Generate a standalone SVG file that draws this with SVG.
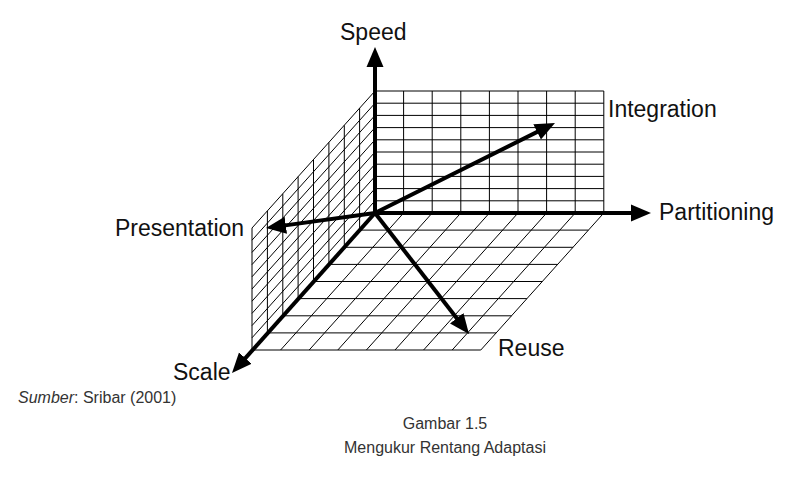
<svg xmlns="http://www.w3.org/2000/svg" width="809" height="479" viewBox="0 0 809 479">
<style>
.grid{fill:none;stroke:#000;stroke-width:1}
.axis{fill:none;stroke:#000;stroke-width:4}
.lbl{font-family:"Liberation Sans",Arial,sans-serif;font-size:23px;fill:#111}
.cap{font-family:"Liberation Sans",Arial,sans-serif;font-size:16px;fill:#333}
</style>
<defs>
<marker id="ah" markerUnits="userSpaceOnUse" markerWidth="22" markerHeight="20" viewBox="0 -10 22 20" refX="8" refY="0" orient="auto">
<path d="M0,-8.5 L20,0 L0,8.5 Z" fill="#000"/>
</marker>
</defs>
<rect width="809" height="479" fill="#fff"/>
<g id="back-wall" class="grid">
<path d="M403.6 91V213M432.2 91V213M460.8 91V213M489.4 91V213M518 91V213M546.6 91V213M575.2 91V213M603.8 91V213"/>
<path d="M375 91H603.8M375 103.2H603.8M375 115.4H603.8M375 127.6H603.8M375 139.8H603.8M375 152H603.8M375 164.2H603.8M375 176.4H603.8M375 188.6H603.8M375 200.8H603.8"/>
</g>
<g id="left-wall" class="grid">
<path d="M359.6 108.1V230.1M344.3 125.3V247.3M328.9 142.4V264.4M313.5 159.5V281.5M298.1 176.6V298.6M282.8 193.8V315.8M267.4 210.9V332.9M252 228V350"/>
<path d="M375 200.8L252 337.8M375 188.6L252 325.6M375 176.4L252 313.4M375 164.2L252 301.2M375 152L252 289M375 139.8L252 276.8M375 127.6L252 264.6M375 115.4L252 252.4M375 103.2L252 240.2M375 91L252 228"/>
</g>
<g id="floor" class="grid">
<path d="M359.6 230.1H588.4M344.3 247.3H573.1M328.9 264.4H557.7M313.5 281.5H542.3M298.1 298.6H526.9M282.8 315.8H511.6M267.4 332.9H496.2M252 350H480.8"/>
<path d="M403.6 213L280.6 350M432.2 213L309.2 350M460.8 213L337.8 350M489.4 213L366.4 350M518 213L395 350M546.6 213L423.6 350M575.2 213L452.2 350M603.8 213L480.8 350"/>
</g>
<g id="connectors" class="axis">
<line id="speed-axis" x1="375" y1="213" x2="375" y2="59" marker-end="url(#ah)"/>
<line id="partitioning-axis" x1="375" y1="213" x2="639" y2="213" marker-end="url(#ah)"/>
<line id="scale-axis" x1="375" y1="213" x2="240" y2="364.05" marker-end="url(#ah)"/>
<line id="integration-arrow" x1="375" y1="213" x2="544.27" y2="128.37" marker-end="url(#ah)"/>
<line id="presentation-arrow" x1="375" y1="213" x2="277.89" y2="226.36" marker-end="url(#ah)"/>
<line id="reuse-arrow" x1="375" y1="213" x2="461.64" y2="324.52" marker-end="url(#ah)"/>
</g>
<g id="speed"><text class="lbl" x="340" y="40">Speed</text></g>
<g id="integration"><text class="lbl" x="608" y="117">Integration</text></g>
<g id="partitioning"><text class="lbl" x="659" y="220">Partitioning</text></g>
<g id="presentation"><text class="lbl" x="115" y="236">Presentation</text></g>
<g id="scale"><text class="lbl" x="173" y="380">Scale</text></g>
<g id="reuse"><text class="lbl" x="498" y="356">Reuse</text></g>
<g id="source"><text class="cap" x="18" y="403"><tspan font-style="italic">Sumber</tspan>: Sribar (2001)</text></g>
<g id="caption">
<text class="cap" x="445" y="429" text-anchor="middle">Gambar 1.5</text>
<text class="cap" x="445" y="453" text-anchor="middle">Mengukur Rentang Adaptasi</text>
</g>
</svg>
